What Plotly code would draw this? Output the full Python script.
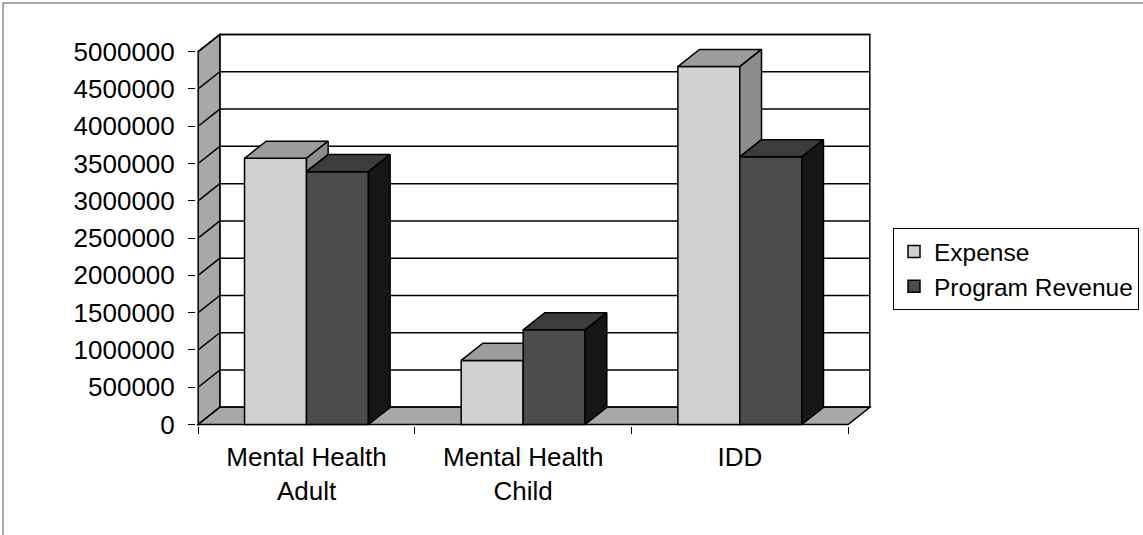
import plotly.graph_objects as go

# ---------------- data ----------------
categories = ["Mental Health<br>Adult", "Mental Health<br>Child", "IDD"]
expense = [3570000, 860000, 4800000]
program_revenue = [3390000, 1270000, 3590000]
y_ticks = [0, 500000, 1000000, 1500000, 2000000, 2500000,
           3000000, 3500000, 4000000, 4500000, 5000000]
y_tick_labels = [str(v) for v in y_ticks]
series_names = ["Expense", "Program Revenue"]

# ---------------- style ----------------
FONT = "Arial, 'Liberation Sans', sans-serif"
BAR_W = 0.286          # bar width in category units
DX = 0.1               # 3-D depth along x (category units)
DY = 230000            # 3-D depth along y (value units)
X0, X1 = -0.5, len(categories) - 0.5
YTOP = y_ticks[-1]

E_FRONT, E_TOP, E_SIDE = "#d0d0d0", "#9c9c9c", "#8c8c8c"
P_FRONT, P_TOP, P_SIDE = "#4c4c4c", "#3c3c3c", "#161616"
WALL = "#a8a8a8"
EDGE = dict(color="black", width=1.5)

xpos = list(range(len(categories)))

fig = go.Figure()

# front faces
fig.add_bar(x=xpos, y=expense, name=series_names[0], width=BAR_W, offset=-BAR_W,
            marker=dict(color=E_FRONT, line=EDGE), hoverinfo="skip")
fig.add_bar(x=xpos, y=program_revenue, name=series_names[1], width=BAR_W, offset=0,
            marker=dict(color=P_FRONT, line=EDGE), hoverinfo="skip")


def poly(pts, color):
    xs = [p[0] for p in pts] + [pts[0][0]]
    ys = [p[1] for p in pts] + [pts[0][1]]
    fig.add_scatter(x=xs, y=ys, mode="lines", fill="toself", fillcolor=color,
                    line=EDGE, showlegend=False, hoverinfo="skip")


for c, e, p in zip(xpos, expense, program_revenue):
    # expense bar (left)
    xl, xr = c - BAR_W, c
    if p > e:
        pts = [(xl, e), (xr, e), (xr, min(p, e + DY))]
        if p < e + DY:
            pts += [(xr + DX * (p - e) / DY, p), (xr + DX, e + DY)]
        pts += [(xl + DX, e + DY)]
        poly(pts, E_TOP)
    else:
        poly([(xl, e), (xr, e), (xr + DX, e + DY), (xl + DX, e + DY)], E_TOP)
        poly([(xr, p), (xr, e), (xr + DX, e + DY), (xr + DX, p + DY)], E_SIDE)
    # program revenue bar (right)
    xl, xr = c, c + BAR_W
    poly([(xl, p), (xr, p), (xr + DX, p + DY), (xl + DX, p + DY)], P_TOP)
    poly([(xr, 0), (xr, p), (xr + DX, p + DY), (xr + DX, DY)], P_SIDE)

# ---------------- walls / floor (background) ----------------
shapes = []
shapes.append(dict(type="rect", xref="x", yref="y", x0=X0 + DX, x1=X1 + DX,
                   y0=DY, y1=YTOP + DY, fillcolor="white", line=EDGE, layer="below"))
for v in y_ticks:
    shapes.append(dict(type="line", xref="x", yref="y", x0=X0 + DX, x1=X1 + DX,
                       y0=v + DY, y1=v + DY, line=EDGE, layer="below"))
shapes.append(dict(type="path", xref="x", yref="y",
                   path=f"M{X0},0 L{X0},{YTOP} L{X0 + DX},{YTOP + DY} L{X0 + DX},{DY} Z",
                   fillcolor=WALL, line=EDGE, layer="below"))
for v in y_ticks:
    shapes.append(dict(type="line", xref="x", yref="y", x0=X0, x1=X0 + DX,
                       y0=v, y1=v + DY, line=EDGE, layer="below"))
shapes.append(dict(type="path", xref="x", yref="y",
                   path=f"M{X0},0 L{X1},0 L{X1 + DX},{DY} L{X0 + DX},{DY} Z",
                   fillcolor=WALL, line=EDGE, layer="below"))

# outer chart border (top and left visible)
PL, PT, PW, PH = 196, 33, 676, 393
def px_x(px):
    return (px - PL) / PW
def px_y(py):
    return (PT + PH - py) / PH
shapes.append(dict(type="line", xref="paper", yref="paper", x0=px_x(3), x1=px_x(1143),
                   y0=px_y(3), y1=px_y(3), line=dict(color="#555", width=1)))
shapes.append(dict(type="line", xref="paper", yref="paper", x0=px_x(3), x1=px_x(3),
                   y0=px_y(3), y1=px_y(535), line=dict(color="#555", width=1)))

fig.update_layout(
    width=1143, height=535, autosize=False,
    margin=dict(l=PL, r=1143 - PL - PW, t=PT, b=535 - PT - PH, pad=0, autoexpand=False),
    paper_bgcolor="white", plot_bgcolor="rgba(0,0,0,0)",
    font=dict(family=FONT, size=24, color="black"),
    barmode="overlay",
    shapes=shapes,
    showlegend=True,
    legend=dict(x=px_x(893), y=px_y(228), xanchor="left", yanchor="top",
                bordercolor="black", borderwidth=1, bgcolor="white",
                font=dict(family=FONT, size=24.5, color="black"),
                traceorder="normal", itemclick=False, itemdoubleclick=False),
)
fig.update_xaxes(range=[X0 - 0.01, X1 + DX + 0.01], tickmode="array", tickvals=xpos,
                 ticktext=categories, ticks="", showgrid=False, zeroline=False,
                 showline=False, ticklabelstandoff=13,
                 tickfont=dict(family=FONT, size=26, color="black"),
                 minor=dict(ticks="outside", tickmode="linear", tick0=X0, dtick=1,
                            ticklen=7, tickcolor="black", tickwidth=1, showgrid=False))
fig.update_yaxes(range=[-20000, YTOP + DY + 20000], tickmode="array", tickvals=y_ticks,
                 ticktext=y_tick_labels, ticks="outside", ticklen=7, tickcolor="black",
                 tickwidth=1, showgrid=False, zeroline=False, showline=False,
                 ticklabelstandoff=8,
                 tickfont=dict(family=FONT, size=26, color="black"))

fig.write_html("out.html", config={"displayModeBar": False})
with open("out.html", "r", encoding="utf-8") as f:
    html = f.read()
html = html.replace("<head>", "<head><style>html,body{margin:0;padding:0;overflow:hidden}</style>", 1)
with open("out.html", "w", encoding="utf-8") as f:
    f.write(html)
